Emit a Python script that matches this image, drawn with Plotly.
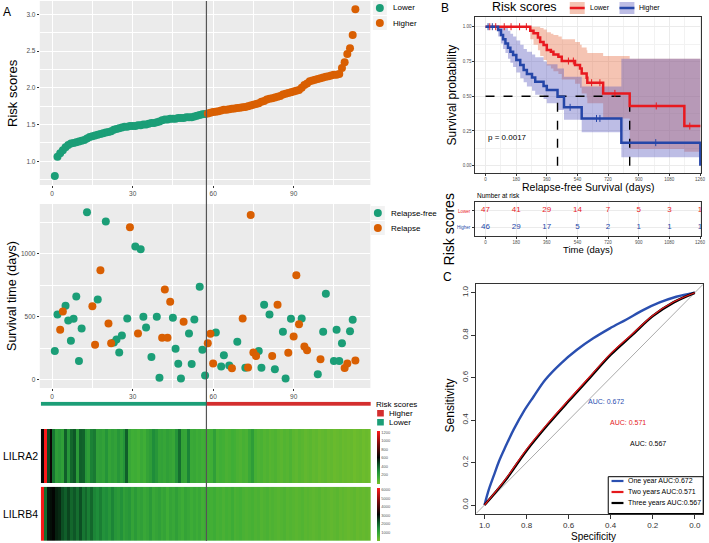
import plotly.graph_objects as go

W, H = 709, 543
FONT = "Liberation Sans, Arial, Helvetica, sans-serif"
GREEN = "#1B9E77"
ORANGE = "#D95F02"
BAR_RED = "#D42E2E"
KM_RED = "#E8191F"
KM_BLUE = "#2546A8"
GRAYTXT = "#4D4D4D"


def fx(x):
    return x / W


def fy(y):
    return 1 - y / H


# ------------------------------------------------------------------ data
risk_scores = [
    0.80, 1.06, 1.11, 1.15, 1.19, 1.22, 1.24, 1.25, 1.26, 1.27,
    1.28, 1.29, 1.31, 1.33, 1.34, 1.35, 1.36, 1.37, 1.38, 1.39,
    1.40, 1.41, 1.43, 1.44, 1.45, 1.46, 1.47, 1.47, 1.48, 1.48,
    1.48, 1.49, 1.49, 1.50, 1.50, 1.51, 1.52, 1.52, 1.53, 1.54,
    1.56, 1.57, 1.57, 1.58, 1.58, 1.58, 1.59, 1.59, 1.59, 1.60,
    1.60, 1.60, 1.61, 1.62, 1.63, 1.64, 1.645,
    1.65, 1.66, 1.67, 1.675, 1.68, 1.69, 1.70, 1.70, 1.71, 1.715,
    1.72, 1.725, 1.73, 1.735, 1.74, 1.75, 1.76, 1.77, 1.78, 1.79,
    1.81, 1.82, 1.84, 1.85, 1.86, 1.87, 1.88, 1.89, 1.91, 1.92,
    1.93, 1.94, 1.95, 1.96, 1.97, 2.00, 2.04, 2.06, 2.09, 2.10,
    2.11, 2.12, 2.13, 2.14, 2.15, 2.16, 2.17, 2.18, 2.18, 2.19,
    2.27, 2.35, 2.46, 2.54, 2.72, 3.07,
]
risk_index = list(range(1, len(risk_scores) + 1))
n_lower = 57
cutoff_position = 57.5

surv_index = [
    1, 2, 3, 4, 5, 6, 7, 8, 9, 10, 11, 13, 15, 16, 17, 18, 20, 21, 22, 23,
    24, 25, 26, 28, 29, 31, 32, 33, 34, 35, 37, 39, 40, 41, 42, 43, 44, 45, 46, 47,
    48, 49, 51, 52, 53, 55, 56, 57, 58, 59, 60, 61, 63, 64, 66, 67, 69, 71, 72, 73,
    74, 75, 76, 77, 78, 79, 81, 82, 83, 84, 86, 87, 88, 89, 90, 91, 92, 93, 94, 95,
    99, 100, 101, 102, 105, 106, 107, 108, 109, 110, 111, 112, 113,
]
surv_days = [
    227, 518, 397, 542, 587, 470, 310, 484, 661, 148, 407, 1330, 584, 278, 637, 870, 1256, 447, 290, 295,
    320, 217, 352, 487, 1211, 1058, 367, 1037, 500, 415, 180, 500, 16, 333, 717, 333, 619, 492, 246, 127,
    10, 460, 367, 124, 478, 738, 238, 34, 290, 365, 129, 375, 105, 195, 113, 90, 301, 487, 95, 97,
    1309, 217, 188, 227, 95, 595, 518, 188, 82, 595, 381, 10, 214, 484, 344, 830, 441, 487, 264, 233,
    44, 163, 381, 682, 148, 397, 148, 290, 92, 129, 384, 476, 153,
]
surv_relapse = [
    0, 0, 1, 1, 0, 0, 0, 0, 0, 0, 0, 0, 1, 1, 0, 1, 0, 1, 1, 0,
    0, 0, 0, 0, 1, 0, 1, 0, 0, 0, 0, 0, 0, 1, 1, 1, 1, 0, 0, 0,
    0, 1, 0, 0, 0, 0, 0, 0, 1, 1, 1, 0, 0, 0, 0, 1, 0, 1, 0, 1,
    1, 1, 1, 0, 0, 0, 0, 1, 0, 1, 0, 0, 1, 0, 1, 1, 1, 0, 1, 1,
    0, 1, 0, 0, 0, 0, 0, 0, 1, 1, 0, 0, 1,
]

lilra2 = [
    620, 1230, 480, 640, 360, 230, 250, 220, 420, 260,
    400, 440, 240, 420, 410, 260, 230, 330, 350, 220,
    230, 210, 270, 200, 230, 210, 260, 220, 270, 420,
    180, 150, 160, 140, 170, 150, 200, 230, 300, 260,
    200, 210, 190, 220, 200, 180, 270, 380, 200, 190,
    320, 170, 180, 160, 170, 150, 160, 140, 150, 220,
    130, 150, 140, 120, 130, 150, 140, 120, 110, 130,
    120, 170, 230, 130, 110, 120, 100, 110, 90, 100,
    110, 90, 80, 100, 90, 110, 80, 70, 90, 80,
    60, 70, 80, 60, 70, 50, 60, 70, 50, 60,
    40, 50, 60, 40, 50, 40, 50, 30, 40, 50,
    30, 40, 30,
]
lilrb4 = [
    6100, 1900, 2900, 3000, 3100, 2800, 2700, 2300, 2100, 2400,
    2000, 2200, 1900, 2300, 1800, 2000, 1700, 2000, 1600, 1500,
    1700, 1400, 1500, 1300, 1600, 1300, 1200, 1400, 1100, 1200,
    1300, 1000, 1200, 1000, 1100, 900, 1000, 1200, 900, 1000,
    1100, 900, 1000, 800, 1000, 900, 1100, 900, 800, 1000,
    900, 800, 900, 800, 900, 700, 800, 750, 700, 800,
    650, 700, 600, 700, 650, 800, 600, 650, 700, 600,
    550, 600, 650, 550, 600, 500, 550, 600, 500, 550,
    500, 450, 500, 550, 450, 500, 450, 400, 450, 500,
    400, 450, 400, 350, 400, 450, 350, 400, 350, 300,
    350, 400, 300, 350, 300, 250, 300, 350, 250, 300,
    250, 300, 250,
]
genes = ["LILRA2", "LILRB4"]

# Kaplan-Meier
km_low_time = [0, 263, 282, 308, 321, 341, 360, 384, 399, 428, 448, 526, 555, 565, 594, 598, 691, 847, 1168, 1262]
km_low_surv = [1.0, 0.97, 0.952, 0.923, 0.89, 0.868, 0.832, 0.82, 0.80, 0.784, 0.753, 0.724, 0.70, 0.664, 0.633, 0.597, 0.52, 0.43, 0.285, 0.285]
km_low_upper = [1, 1, 1, 1, 0.99, 0.98, 0.96, 0.95, 0.94, 0.93, 0.91, 0.89, 0.87, 0.85, 0.83, 0.81, 0.79, 0.77, 0.77, 0.77]
km_low_lower = [1, 0.91, 0.87, 0.83, 0.79, 0.76, 0.72, 0.70, 0.68, 0.66, 0.62, 0.59, 0.56, 0.52, 0.49, 0.45, 0.34, 0.12, 0.10, 0.10]

km_high_time = [0, 74, 91, 103, 117, 132, 146, 162, 181, 204, 224, 243, 273, 292, 341, 360, 423, 461, 565, 798, 1258, 1262]
km_high_surv = [1.0, 0.976, 0.94, 0.909, 0.88, 0.849, 0.82, 0.796, 0.76, 0.724, 0.688, 0.66, 0.635, 0.604, 0.573, 0.544, 0.496, 0.42, 0.34, 0.166, 0.166, 0.0]
km_high_upper = [1, 1, 1, 1, 0.99, 0.97, 0.95, 0.93, 0.90, 0.87, 0.84, 0.82, 0.80, 0.78, 0.75, 0.73, 0.70, 0.64, 0.57, 0.77, 0.77, 0.77]
km_high_lower = [1, 0.93, 0.88, 0.84, 0.81, 0.77, 0.74, 0.71, 0.67, 0.63, 0.60, 0.57, 0.54, 0.51, 0.48, 0.45, 0.40, 0.33, 0.24, 0.06, 0.0, 0.0]

km_low_cens_time = [25, 60, 110, 150, 200, 240, 487, 516, 623, 672, 760, 1003, 1200]
km_low_cens_surv = [1, 1, 1, 1, 1, 1, 0.753, 0.753, 0.597, 0.597, 0.52, 0.43, 0.285]
km_high_cens_time = [15, 40, 497, 652, 672, 1000]
km_high_cens_surv = [1, 1, 0.42, 0.34, 0.34, 0.166]

median_days = [423, 847]
p_value_text = "p = 0.0017"

table_times = [0, 180, 360, 540, 720, 900, 1080, 1260]
at_risk_lower = [47, 41, 29, 14, 7, 5, 3, 1]
at_risk_higher = [46, 29, 17, 5, 2, 1, 1, 1]

# ROC
roc1_spec = [1.0, 0.98, 0.956, 0.932, 0.90, 0.861, 0.814, 0.767, 0.712, 0.640, 0.562, 0.483, 0.404, 0.325, 0.246, 0.167, 0.088, 0.0]
roc1_sens = [0.0, 0.071, 0.138, 0.204, 0.275, 0.356, 0.44, 0.51, 0.589, 0.664, 0.73, 0.785, 0.832, 0.874, 0.918, 0.954, 0.981, 1.0]
roc2_spec = [1.0, 0.9, 0.8, 0.7, 0.6, 0.5, 0.4, 0.3, 0.2, 0.1, 0.0]
roc2_sens = [0.0, 0.122, 0.262, 0.383, 0.495, 0.604, 0.713, 0.803, 0.893, 0.957, 1.0]
roc3_spec = [1.0, 0.9, 0.8, 0.7, 0.6, 0.5, 0.4, 0.3, 0.2, 0.1, 0.0]
roc3_sens = [0.0, 0.118, 0.257, 0.378, 0.49, 0.599, 0.708, 0.799, 0.89, 0.955, 1.0]
auc_labels = ["AUC: 0.672", "AUC: 0.571", "AUC: 0.567"]
roc_legend = ["One year AUC:0.672", "Two years AUC:0.571", "Three years AUC:0.567"]

# ------------------------------------------------------------------ figure
fig = go.Figure()

# Panel A top: risk scores
fig.add_trace(go.Scatter(x=risk_index[:n_lower], y=risk_scores[:n_lower], mode="markers",
                         marker=dict(color=GREEN, size=8), xaxis="x", yaxis="y", showlegend=False))
fig.add_trace(go.Scatter(x=risk_index[n_lower:], y=risk_scores[n_lower:], mode="markers",
                         marker=dict(color=ORANGE, size=8), xaxis="x", yaxis="y", showlegend=False))

# Panel A middle: survival
sx_c = [i for i, s in zip(surv_index, surv_relapse) if s == 0]
sy_c = [d for d, s in zip(surv_days, surv_relapse) if s == 0]
sx_r = [i for i, s in zip(surv_index, surv_relapse) if s == 1]
sy_r = [d for d, s in zip(surv_days, surv_relapse) if s == 1]
fig.add_trace(go.Scatter(x=sx_c, y=sy_c, mode="markers", marker=dict(color=GREEN, size=8),
                         xaxis="x2", yaxis="y2", showlegend=False))
fig.add_trace(go.Scatter(x=sx_r, y=sy_r, mode="markers", marker=dict(color=ORANGE, size=8),
                         xaxis="x2", yaxis="y2", showlegend=False))

# Risk group bar
group_z = [[0 if i <= n_lower else 1 for i in risk_index]]
fig.add_trace(go.Heatmap(z=group_z, x=risk_index, y=["group"], xaxis="x3", yaxis="y3",
                         colorscale=[[0, GREEN], [0.5, GREEN], [0.5, BAR_RED], [1, BAR_RED]],
                         zmin=0, zmax=1, showscale=False, hoverinfo="skip"))

HM_SCALE = [[0, "#79BF2A"], [0.12, "#3FAE36"], [0.24, "#1F8E3A"], [0.36, "#0D5526"],
            [0.5, "#030503"], [0.75, "#7A0B0B"], [1, "#FF1A1A"]]


def cbar(ytop, ybot, tickvals):
    return dict(x=fx(379), xanchor="left", thickness=3, len=(ybot - ytop) / H, lenmode="fraction",
                y=fy((ytop + ybot) / 2), yanchor="middle", outlinewidth=0, xpad=0, ypad=0,
                tickvals=tickvals, ticks="", tickfont=dict(size=4, color="#555", family=FONT))


fig.add_trace(go.Heatmap(z=[lilra2], x=risk_index, y=[genes[0]], xaxis="x4", yaxis="y4",
                         colorscale=HM_SCALE, zmin=0, zmax=1240,
                         colorbar=cbar(430.7, 483.3, [200, 400, 600, 800, 1000, 1200])))
fig.add_trace(go.Heatmap(z=[lilrb4], x=risk_index, y=[genes[1]], xaxis="x5", yaxis="y5",
                         colorscale=HM_SCALE, zmin=0, zmax=6200,
                         colorbar=cbar(488.3, 541, [0, 1000, 2000, 3000, 4000, 5000, 6000])))

# Panel B: KM bands
fig.add_trace(go.Scatter(x=km_low_time, y=km_low_lower, mode="lines", line=dict(width=0, shape="hv"),
                         xaxis="x6", yaxis="y6", showlegend=False, hoverinfo="skip"))
fig.add_trace(go.Scatter(x=km_low_time, y=km_low_upper, mode="lines", line=dict(width=0, shape="hv"),
                         fill="tonexty", fillcolor="rgba(232,115,75,0.42)",
                         xaxis="x6", yaxis="y6", showlegend=False, hoverinfo="skip"))
fig.add_trace(go.Scatter(x=km_high_time, y=km_high_lower, mode="lines", line=dict(width=0, shape="hv"),
                         xaxis="x6", yaxis="y6", showlegend=False, hoverinfo="skip"))
fig.add_trace(go.Scatter(x=km_high_time, y=km_high_upper, mode="lines", line=dict(width=0, shape="hv"),
                         fill="tonexty", fillcolor="rgba(90,90,190,0.40)",
                         xaxis="x6", yaxis="y6", showlegend=False, hoverinfo="skip"))
# median lines
fig.add_trace(go.Scatter(x=[0, median_days[1]], y=[0.5, 0.5], mode="lines",
                         line=dict(color="black", width=1.4, dash="dash"), xaxis="x6", yaxis="y6", showlegend=False))
for md in median_days:
    fig.add_trace(go.Scatter(x=[md, md], y=[0, 0.5], mode="lines",
                             line=dict(color="black", width=1.4, dash="dash"), xaxis="x6", yaxis="y6", showlegend=False))
# curves
fig.add_trace(go.Scatter(x=km_low_time, y=km_low_surv, mode="lines", line=dict(color=KM_RED, width=2.5, shape="hv"),
                         xaxis="x6", yaxis="y6", showlegend=False))
fig.add_trace(go.Scatter(x=km_high_time, y=km_high_surv, mode="lines", line=dict(color=KM_BLUE, width=2.5, shape="hv"),
                         xaxis="x6", yaxis="y6", showlegend=False))
fig.add_trace(go.Scatter(x=km_low_cens_time, y=km_low_cens_surv, mode="markers",
                         marker=dict(symbol="line-ns-open", size=5, color=KM_RED, line=dict(color=KM_RED, width=1)),
                         xaxis="x6", yaxis="y6", showlegend=False))
fig.add_trace(go.Scatter(x=km_high_cens_time, y=km_high_cens_surv, mode="markers",
                         marker=dict(symbol="line-ns-open", size=5, color=KM_BLUE, line=dict(color=KM_BLUE, width=1)),
                         xaxis="x6", yaxis="y6", showlegend=False))

# risk table
fig.add_trace(go.Scatter(x=table_times, y=[2] * len(table_times), mode="text",
                         text=[str(v) for v in at_risk_lower], textfont=dict(color=KM_RED, size=8, family=FONT),
                         xaxis="x7", yaxis="y7", showlegend=False))
fig.add_trace(go.Scatter(x=table_times, y=[1] * len(table_times), mode="text",
                         text=[str(v) for v in at_risk_higher], textfont=dict(color=KM_BLUE, size=8, family=FONT),
                         xaxis="x7", yaxis="y7", showlegend=False))

# Panel C: ROC
fig.add_trace(go.Scatter(x=[1.04, -0.04], y=[-0.04, 1.04], mode="lines", line=dict(color="#AAAAAA", width=1),
                         xaxis="x8", yaxis="y8", showlegend=False))
fig.add_trace(go.Scatter(x=roc1_spec, y=roc1_sens, mode="lines", line=dict(color="#2A4FB0", width=2.4, shape="spline"),
                         xaxis="x8", yaxis="y8", showlegend=False))
fig.add_trace(go.Scatter(x=roc3_spec, y=roc3_sens, mode="lines", line=dict(color="black", width=2.6, shape="spline"),
                         xaxis="x8", yaxis="y8", showlegend=False))
fig.add_trace(go.Scatter(x=roc2_spec, y=roc2_sens, mode="lines", line=dict(color="#E4191C", width=1.2, shape="spline"),
                         xaxis="x8", yaxis="y8", showlegend=False))

# ------------------------------------------------------------------ axes
tickfont_gg = dict(size=6.5, color=GRAYTXT, family=FONT)
XDOM_A = [fx(40), fx(372.5)]


def gg_axis(**kw):
    d = dict(showgrid=True, gridcolor="white", gridwidth=1.1, zeroline=False, ticks="outside",
             ticklen=2, tickcolor="#333333", tickfont=tickfont_gg, showline=False)
    d.update(kw)
    return d


minor_x = dict(dtick=15, tick0=0, showgrid=True, gridcolor="white", gridwidth=0.5)

fig.update_layout(
    xaxis=gg_axis(domain=XDOM_A, range=[-4.6, 118.6], tickvals=[0, 30, 60, 90], minor=minor_x, anchor="y"),
    yaxis=gg_axis(domain=[fy(185), fy(1)], range=[0.676, 3.184], tickvals=[1.0, 1.5, 2.0, 2.5, 3.0],
                  ticktext=["1.0", "1.5", "2.0", "2.5", "3.0"],
                  minor=dict(dtick=0.25, tick0=0, showgrid=True, gridcolor="white", gridwidth=0.5), anchor="x"),
    xaxis2=gg_axis(domain=XDOM_A, range=[-4.6, 118.6], tickvals=[0, 30, 60, 90], minor=minor_x, anchor="y2"),
    yaxis2=gg_axis(domain=[fy(388), fy(204)], range=[-66, 1396], tickvals=[0, 500, 1000],
                   minor=dict(dtick=250, tick0=0, showgrid=True, gridcolor="white", gridwidth=0.5), anchor="x2"),
    xaxis3=dict(domain=[fx(41), fx(373)], range=[0.5, 113.5], visible=False, anchor="y3"),
    yaxis3=dict(domain=[fy(406), fy(401.7)], visible=False, anchor="x3"),
    xaxis4=dict(domain=[fx(41), fx(373)], range=[0.5, 113.5], visible=False, anchor="y4"),
    yaxis4=dict(domain=[fy(483.3), fy(429)], visible=False, anchor="x4"),
    xaxis5=dict(domain=[fx(41), fx(373)], range=[0.5, 113.5], visible=False, anchor="y5"),
    yaxis5=dict(domain=[fy(541), fy(486.7)], visible=False, anchor="x5"),
    xaxis6=dict(domain=[fx(478), fx(705)], range=[-60, 1266], tickvals=table_times, ticks="outside", ticklen=2,
                tickcolor="#333", tickfont=dict(size=4.5, color=GRAYTXT, family=FONT), showgrid=True,
                gridcolor="#EBEBEB", gridwidth=0.8, zeroline=False, showline=True, mirror=True,
                linecolor="#333333", linewidth=1, ticklabeloverflow="allow",
                minor=dict(dtick=90, tick0=0, showgrid=True, gridcolor="#F2F2F2", gridwidth=0.5), anchor="y6"),
    yaxis6=dict(domain=[fy(173), fy(17.3)], range=[-0.0525, 1.0676], tickvals=[0, 0.25, 0.5, 0.75, 1.0],
                ticktext=["0.00", "0.25", "0.50", "0.75", "1.00"], ticks="outside", ticklen=2, tickcolor="#333",
                tickfont=dict(size=4.5, color=GRAYTXT, family=FONT), showgrid=True, gridcolor="#EBEBEB",
                gridwidth=0.8, zeroline=False, showline=True, mirror=True, linecolor="#333333", linewidth=1,
                minor=dict(dtick=0.125, tick0=0, showgrid=True, gridcolor="#F2F2F2", gridwidth=0.5), anchor="x6"),
    xaxis7=dict(domain=[fx(478), fx(705)], range=[-60, 1266], tickvals=table_times, ticks="outside", ticklen=2,
                tickcolor="#333", tickfont=dict(size=4.5, color=GRAYTXT, family=FONT), showgrid=True,
                gridcolor="#EBEBEB", gridwidth=0.8, zeroline=False, showline=True, mirror=True,
                linecolor="#333333", linewidth=1, ticklabeloverflow="allow", anchor="y7"),
    yaxis7=dict(domain=[fy(235.7), fy(201.7)], range=[0.5, 2.5], tickvals=[1, 2], ticktext=["", ""],
                ticks="outside", ticklen=2, tickcolor="#333", showgrid=True, gridcolor="#EBEBEB",
                zeroline=False, showline=True, mirror=True, linecolor="#333333", linewidth=1, anchor="x7"),
    xaxis8=dict(domain=[fx(478.8), fx(707.2)], range=[1.04, -0.04], tickvals=[1.0, 0.8, 0.6, 0.4, 0.2, 0.0],
                ticktext=["1.0", "0.8", "0.6", "0.4", "0.2", "0.0"], ticks="outside", ticklen=4,
                tickcolor="#333", tickfont=dict(size=8, color="#333", family=FONT), showgrid=False,
                zeroline=False, showline=True, mirror=True, linecolor="#333333", linewidth=1, anchor="y8"),
    yaxis8=dict(domain=[fy(513.5), fy(284.2)], range=[-0.04, 1.04], tickvals=[0.0, 0.2, 0.4, 0.6, 0.8, 1.0],
                ticktext=["0.0", "0.2", "0.4", "0.6", "0.8", "1.0"], ticks="outside", ticklen=4, tickangle=-90,
                tickcolor="#333", tickfont=dict(size=8, color="#333", family=FONT), showgrid=False,
                zeroline=False, showline=True, mirror=True, linecolor="#333333", linewidth=1, anchor="x8"),
)

# ------------------------------------------------------------------ shapes
shapes = []
for xr, yr in [("x", "y"), ("x2", "y2")]:
    shapes.append(dict(type="rect", xref=xr + " domain", yref=yr + " domain", x0=0, x1=1, y0=0, y1=1,
                       fillcolor="#EBEBEB", line=dict(width=0), layer="below"))
# cut-off line across panel A
shapes.append(dict(type="line", xref="x", yref="paper", x0=cutoff_position, x1=cutoff_position,
                   y0=fy(541), y1=fy(1), line=dict(color="#555555", width=1.2), layer="above"))


def rect_px(x0, y0, x1, y1, fill, line=None):
    return dict(type="rect", xref="paper", yref="paper", x0=fx(x0), x1=fx(x1), y0=fy(y1), y1=fy(y0),
                fillcolor=fill, line=line or dict(width=0), layer="above")


def circ_px(cx, cy, r, color):
    return dict(type="circle", xref="paper", yref="paper", x0=fx(cx - r), x1=fx(cx + r), y0=fy(cy + r),
                y1=fy(cy - r), fillcolor=color, line=dict(width=0), layer="above")


# A legends
shapes += [rect_px(375, 1, 389, 15, "#F2F2F2"), rect_px(375, 16, 389, 30, "#F2F2F2"),
           circ_px(382, 8, 4, GREEN), circ_px(382, 23, 4, ORANGE),
           rect_px(373, 206, 387, 220, "#F2F2F2"), rect_px(373, 221, 387, 235, "#F2F2F2"),
           circ_px(380, 213, 4, GREEN), circ_px(380, 228, 4, ORANGE),
           rect_px(379.3, 410, 386, 416.5, BAR_RED), rect_px(379.3, 419, 386, 425.5, GREEN)]
# B legend keys
shapes += [rect_px(573, 2, 588, 14, "rgba(232,115,75,0.42)"), rect_px(623, 2, 638, 14, "rgba(90,90,190,0.40)")]
shapes += [dict(type="line", xref="paper", yref="paper", x0=fx(573), x1=fx(588), y0=fy(8), y1=fy(8),
                line=dict(color=KM_RED, width=2.5)),
           dict(type="line", xref="paper", yref="paper", x0=fx(623), x1=fx(638), y0=fy(8), y1=fy(8),
                line=dict(color=KM_BLUE, width=2.5))]
# C legend
shapes.append(rect_px(611.7, 476.7, 707.2, 513.5, "white", dict(color="black", width=1)))
leg_y = [481, 492, 503]
leg_col = ["#2A4FB0", "#E4191C", "black"]
for yy, cc in zip(leg_y, leg_col):
    shapes.append(dict(type="line", xref="paper", yref="paper", x0=fx(615), x1=fx(627), y0=fy(yy), y1=fy(yy),
                       line=dict(color=cc, width=2.2)))

fig.update_layout(shapes=shapes)

# ------------------------------------------------------------------ annotations
ann = []


def txt(x, y, s, size, color="black", xanchor="center", angle=0, yanchor="middle"):
    ann.append(dict(x=fx(x), y=fy(y), xref="paper", yref="paper", text=s, showarrow=False,
                    font=dict(size=size, color=color, family=FONT), xanchor=xanchor, yanchor=yanchor,
                    textangle=angle))


txt(7, 12, "A", 12)
txt(12, 93, "Risk scores", 13, angle=-90)
txt(12, 296, "Survival time (days)", 12.5, angle=-90)
txt(393, 8, "Lower", 8, xanchor="left")
txt(393, 23, "Higher", 8, xanchor="left")
txt(391, 213, "Relapse-free", 8, xanchor="left")
txt(391, 228, "Relapse", 8, xanchor="left")
txt(376, 404, "Risk scores", 8, xanchor="left")
txt(389, 413.5, "Higher", 8, xanchor="left")
txt(389, 422.5, "Lower", 8, xanchor="left")
txt(21, 456, genes[0], 10.5)
txt(21, 514, genes[1], 10.5)

txt(448, 8, "B", 12)
txt(527, 7, "Risk scores", 12.5)
txt(591, 8, "Lower", 7, xanchor="left")
txt(641, 8, "Higher", 7, xanchor="left")
txt(455, 95, "Survival probability", 12, angle=-90)
txt(591, 187.5, "Relapse-free Survival (days)", 10.5)
ann.append(dict(x=127, y=0.2, xref="x6", yref="y6", text=p_value_text, showarrow=False,
                font=dict(size=8, color="black", family=FONT)))
txt(478, 196, "Number at risk", 6.5, xanchor="left")
txt(476, 211, "Lower", 4.5, color=KM_RED, xanchor="right")
txt(476, 227.7, "Higher", 4.5, color=KM_BLUE, xanchor="right")
txt(591, 250, "Time (days)", 9.5)
txt(452, 229, "Risk scores", 14, angle=-90)

txt(450, 277, "C", 12)
txt(453, 405, "Sensitivity", 12, angle=-90)
txt(597, 536, "Specificity", 10)
auc_pos = [(0.42, 0.487), (0.32, 0.388), (0.222, 0.29)]
for (xx, yy), s, cc in zip(auc_pos, auc_labels, leg_col):
    ann.append(dict(x=xx, y=yy, xref="x8", yref="y8", text=s, showarrow=False,
                    font=dict(size=7, color=cc, family=FONT)))
for yy, s in zip(leg_y, roc_legend):
    txt(630, yy, s, 7, xanchor="left")

fig.update_layout(annotations=ann)

fig.update_layout(width=W, height=H, autosize=False, margin=dict(l=0, r=0, t=0, b=0),
                  paper_bgcolor="white", plot_bgcolor="white", showlegend=False,
                  font=dict(family=FONT))

fig.write_html("out.html", config={"displayModeBar": False},
               post_script="document.body.style.margin='0';document.body.style.overflow='hidden';")
